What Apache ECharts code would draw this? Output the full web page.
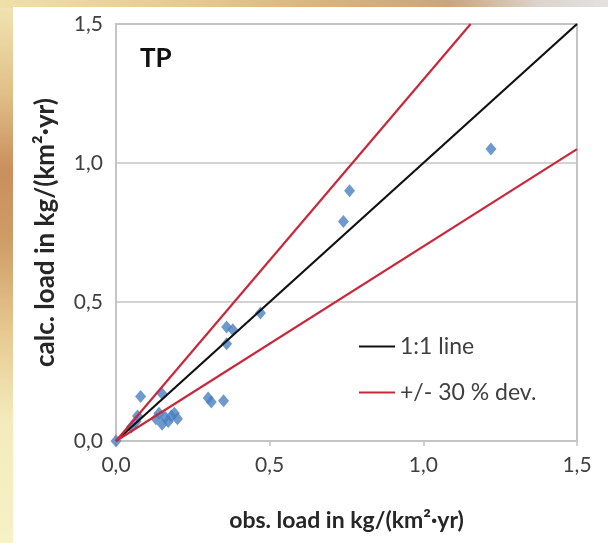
<!DOCTYPE html>
<html>
<head>
<meta charset="utf-8">
<script src="https://cdn.jsdelivr.net/npm/echarts@6/dist/echarts.min.js"></script>
<style>
html,body{margin:0;padding:0;width:608px;height:543px;overflow:hidden;}
body{background:linear-gradient(to bottom,#f1e6b4 0px,#e2c189 90px,#c98f5c 170px,#cf9c66 240px,#e6c88f 330px,#f3ebbc 420px,#f6f1c6 543px);}
#top{position:absolute;left:0;top:0;width:608px;height:8px;background:linear-gradient(to right,#efe0a8 0px,#e3c98e 200px,#d9b27a 330px,#c9a57c 450px,#dcd4cc 540px,#e4e2e0 608px);}
#panel{position:absolute;left:13px;top:7px;width:595px;height:536px;background:#ffffff;}
#chart{position:absolute;left:0;top:0;width:608px;height:543px;}
</style>
</head>
<body>
<div id="top"></div>
<div id="panel"></div>
<div id="chart"></div>
<script>
// observed vs calculated TP loads
const obsLoad  = [0.00,0.05,0.07,0.065,0.08,0.13,0.14,0.15,0.15,0.16,0.17,0.18,0.19,0.20,0.30,0.31,0.35,0.36,0.36,0.38,0.47,0.74,0.76,1.22];
const calcLoad = [0.00,0.05,0.09,0.07,0.16,0.08,0.10,0.06,0.17,0.085,0.07,0.09,0.10,0.08,0.155,0.14,0.145,0.35,0.41,0.40,0.46,0.79,0.90,1.05];
const oneToOne = [[0,0],[1.5,1.5]];
const upperDev = [[0,0],[1.5/1.3,1.5]];
const lowerDev = [[0,0],[1.5,1.05]];
const panelLabel = 'TP';
const xTitle = 'obs. load in kg/(km²·yr)';
const yTitle = 'calc. load in kg/(km²·yr)';
const legendNames = ['1:1 line','+/- 30 % dev.'];

const pts = obsLoad.map((x,i)=>[x,calcLoad[i]]);
const fmt = v => v.toFixed(1).replace('.', ',');
const font = 'Lato, "Open Sans", sans-serif';

const chart = echarts.init(document.getElementById('chart'), null, {renderer:'canvas'});
chart.setOption({
  backgroundColor:'transparent',
  animation:false,
  title:{text:panelLabel,left:135,top:41,textStyle:{fontFamily:font,fontSize:26,fontWeight:'bold',color:'#111'}},
  grid:{left:116,right:31,top:24,bottom:102,show:true,borderColor:'#c4c4c4',borderWidth:2,backgroundColor:'#fff'},
  legend:{
    orient:'vertical',left:354,top:330,itemGap:23,itemWidth:36,itemHeight:14,
    data:legendNames.map(n=>({name:n,icon:'path://M0,6 L36,6 L36,8.2 L0,8.2 Z'})),
    textStyle:{fontFamily:font,fontSize:23,color:'#404040'}
  },
  xAxis:{
    type:'value',min:0,max:1.5,interval:0.5,
    name:xTitle,nameLocation:'middle',nameGap:68,
    nameTextStyle:{fontFamily:font,fontSize:23,fontWeight:'bold',color:'#262626'},
    axisLine:{show:true,lineStyle:{color:'#c4c4c4',width:2}},
    axisTick:{show:true,length:5,lineStyle:{color:'#c4c4c4',width:1.5}},
    splitLine:{show:false},
    axisLabel:{fontFamily:font,formatter:fmt,fontSize:21,color:'#404040',margin:14}
  },
  yAxis:{
    type:'value',min:0,max:1.5,interval:0.5,
    name:yTitle,nameLocation:'middle',nameGap:57,nameRotate:90,
    nameTextStyle:{fontFamily:font,fontSize:26,fontWeight:'bold',color:'#262626'},
    axisLine:{show:true,lineStyle:{color:'#c4c4c4',width:2}},
    axisTick:{show:false},
    splitLine:{show:true,lineStyle:{color:'#c4c4c4',width:1.5}},
    axisLabel:{formatter:fmt,fontFamily:font,fontSize:21,color:'#404040',margin:13}
  },
  series:[
    {type:'scatter',name:'data',data:pts,symbol:'diamond',symbolSize:[11,13],
     itemStyle:{color:'#4a80c0'},z:2},
    {type:'line',name:legendNames[0],data:oneToOne,symbol:'none',
     lineStyle:{color:'#111111',width:2.2},itemStyle:{color:'#111111'},z:3},
    {type:'line',name:legendNames[1],data:upperDev,symbol:'none',
     lineStyle:{color:'#c8283a',width:2.2},itemStyle:{color:'#c8283a'},z:3},
    {type:'line',name:legendNames[1],data:lowerDev,symbol:'none',
     lineStyle:{color:'#c8283a',width:2.2},itemStyle:{color:'#c8283a'},z:3}
  ]
});
</script>
</body>
</html>
